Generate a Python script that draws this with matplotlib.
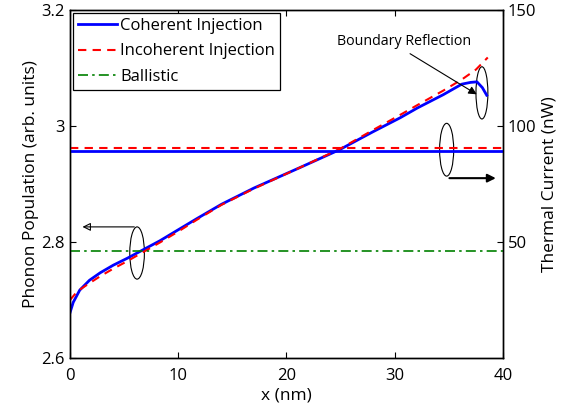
import matplotlib
matplotlib.use('Agg')
from matplotlib import pyplot as plt
from matplotlib.patches import Ellipse

plt.rcParams['font.family'] = ['Open Sans', 'DejaVu Sans']
plt.rcParams['font.size'] = 12

# phonon population along the channel (left axis)
x_coh = [0.0, 0.3, 0.9, 1.8, 2.8, 4.0, 5.3, 6.8, 8.3, 10.0, 11.7, 14.0, 17.0,
         21.1, 24.9, 28.0, 30.5, 32.1, 34.5, 36.2, 37.0, 37.6, 38.1, 38.5]
pop_coh = [2.678, 2.696, 2.717, 2.734, 2.747, 2.760, 2.772, 2.787, 2.802, 2.821,
           2.840, 2.865, 2.893, 2.927, 2.959, 2.990, 3.014, 3.031, 3.054, 3.072,
           3.075, 3.076, 3.066, 3.053]
x_inc = [0.0, 0.5, 1.0, 1.8, 2.8, 4.0, 5.3, 6.8, 8.3, 10.0, 11.7, 14.0, 17.0,
         21.1, 24.9, 28.0, 30.5, 32.1, 34.5, 36.2, 37.5, 38.6]
pop_inc = [2.700, 2.711, 2.719, 2.729, 2.741, 2.754, 2.767, 2.783, 2.799, 2.818,
           2.838, 2.864, 2.892, 2.927, 2.960, 2.993, 3.019, 3.036, 3.061, 3.080,
           3.097, 3.118]

# thermal currents (right axis, nW)
current_coh = 89.4
current_inc = 90.6
current_bal = 46.3

fig = plt.figure(figsize=(5.63, 4.12), dpi=100)
ax = fig.add_axes([0.1243, 0.131, 0.769, 0.845])
ax2 = ax.twinx()

l1, = ax.plot(x_coh, pop_coh, color='#0000ff', lw=2, label='Coherent Injection')
l2, = ax.plot(x_inc, pop_inc, color='#ff0000', lw=1.5, ls=(0, (4, 3)), label='Incoherent Injection')
ax2.plot([0, 40], [current_coh, current_coh], color='#0000ff', lw=2)
ax2.plot([0, 40], [current_inc, current_inc], color='#ff0000', lw=1.5, ls=(0, (4, 3)))
l3, = ax2.plot([0, 40], [current_bal, current_bal], color='#008000', lw=1.2,
               ls=(0, (6, 2.5, 1.5, 2.5)), label='Ballistic')

ax.set_xlim(0, 40)
ax.set_ylim(2.6, 3.2)
ax.set_xticks([0, 10, 20, 30, 40])
ax.set_yticks([2.6, 2.8, 3.0, 3.2])
ax.set_yticklabels(['2.6', '2.8', '3', '3.2'])
ax2.set_ylim(0, 150)
ax2.set_yticks([50, 100, 150])
ax.tick_params(direction='in', top=True, length=4, width=0.8, labelsize=12)
ax.tick_params(axis='x', pad=7)
ax2.tick_params(direction='in', length=4, width=0.8, labelsize=12)
ax.set_xlabel('x (nm)', labelpad=3, fontsize=12.5)
ax.set_ylabel('Phonon Population (arb. units)', labelpad=2, fontsize=12.5)
ax2.set_ylabel('Thermal Current (nW)', labelpad=4, fontsize=12.5)
for a in (ax, ax2):
    for s in a.spines.values():
        s.set_linewidth(1.0)

leg = ax.legend(handles=[l1, l2, l3], loc='upper left', fancybox=False,
                edgecolor='black', framealpha=1, borderaxespad=0.2,
                handlelength=2.3, handletextpad=0.2, borderpad=0.3,
                labelspacing=0.55, fontsize=12)
leg.get_frame().set_linewidth(0.9)

# ellipses marking curves and axis arrows
ax.add_patch(Ellipse((6.2, 2.781), 1.35, 0.09, fill=False, lw=0.8, ec='black'))
ax.annotate('', xy=(0.9, 2.826), xytext=(6.2, 2.826),
            arrowprops=dict(arrowstyle='-|>', color='black', lw=0.8,
                            mutation_scale=12, fill=False))
ax.add_patch(Ellipse((34.8, 2.959), 1.3, 0.091, fill=False, lw=0.8, ec='black'))
ax.annotate('', xy=(39.6, 2.910), xytext=(34.8, 2.910),
            arrowprops=dict(arrowstyle='-|>', color='black', lw=1.5,
                            mutation_scale=12))
ax.add_patch(Ellipse((38.06, 3.057), 1.1, 0.09, fill=False, lw=0.8, ec='black'))
ax.annotate('', xy=(37.8, 3.052), xytext=(31.2, 3.127),
            arrowprops=dict(arrowstyle='-|>', color='black', lw=0.8,
                            mutation_scale=12))
ax.text(24.7, 3.139, 'Boundary Reflection', fontsize=10.3)

fig.savefig('out.png', dpi=100)
